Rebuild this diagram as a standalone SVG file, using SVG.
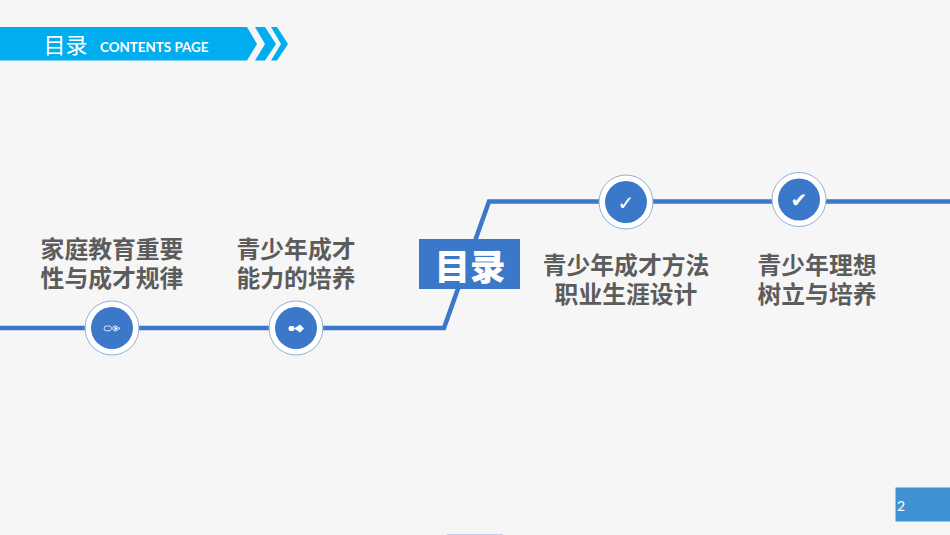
<svg xmlns="http://www.w3.org/2000/svg" width="950" height="535" viewBox="0 0 950 535">
<style>
.t{font-family:"Noto Sans CJK SC","Noto Sans",sans-serif;font-weight:700;font-size:23.800px;fill:#5c5c5c;text-anchor:middle}
.ring{fill:#fff;stroke:#8fb0dc;stroke-width:1}
.disc{fill:#3b78c9}
.line{fill:none;stroke:#3b78c9;stroke-width:4.5;stroke-linejoin:miter}
.i{font-family:"DejaVu Sans",sans-serif;fill:#fff;text-anchor:middle}
</style>
<rect width="950" height="535" fill="#f6f6f6"/>
<g id="header">
<polygon points="0,27 247,27 257,44 247,60.500 0,60.500" fill="#00aeef"/>
<polygon points="255,27 265,27 276,44 265,60.500 255,60.500 265,44" fill="#00aeef"/>
<polygon points="271,27 277,27 288,44 277,60.500 271,60.500 281,44" fill="#00aeef"/>
<text x="43.500" y="53" font-family="'Noto Sans CJK SC',sans-serif" font-weight="400" font-size="22" fill="#fff">目录</text>
<text x="100" y="52" font-family="Lato,'Open Sans',sans-serif" font-weight="700" font-size="13.400" fill="#fff">CONTENTS PAGE</text>
</g>
<g id="connectors">
<path class="line" d="M0 328H444L489 201.500H950"/>
</g>
<g id="center">
<rect x="419" y="239" width="101" height="50" fill="#3b78c9"/>
<text x="470" y="280" text-anchor="middle" font-family="'Noto Sans CJK SC',sans-serif" font-weight="900" font-size="35.500" fill="#fff">目录</text>
</g>
<g id="node1">
<circle class="ring" cx="112" cy="328" r="27"/><circle class="disc" cx="112" cy="328" r="21"/>
<path d="M110 326H106.500A2.400 2.400 0 0 0 106.500 330.800H110L112 328.400L114 326H116L120 328.400L116 330.800H114L112 328.400L110 326" fill="none" stroke="#fff" stroke-width="0.800"/>
<path d="M114.500 326.500L118 328.400L114.500 330.300Z" fill="#fff"/>
<text class="t" x="112" y="258">家庭教育重要</text><text class="t" x="112" y="287">性与成才规律</text>
</g>
<g id="node2">
<circle class="ring" cx="296" cy="328" r="27"/><circle class="disc" cx="296" cy="328" r="21"/>
<rect x="288.500" y="326" width="6" height="5" rx="2" fill="#fff"/>
<path d="M294 328.500L298 326L300 324.500L304 328.500L300 332.500L298 331Z" fill="#fff"/>
<text class="t" x="296" y="258">青少年成才</text><text class="t" x="296" y="287">能力的培养</text>
</g>
<g id="node3">
<circle class="ring" cx="626" cy="202" r="27"/><circle class="disc" cx="626" cy="202" r="21"/>
<text class="i" x="626" y="210" font-size="20">✓</text>
<text class="t" x="626" y="274">青少年成才方法</text><text class="t" x="626" y="303">职业生涯设计</text>
</g>
<g id="node4">
<circle class="ring" cx="799" cy="199.500" r="27"/><circle class="disc" cx="799" cy="199.500" r="21"/>
<text class="i" x="799" y="207" font-size="20">✔</text>
<text class="t" x="817" y="274">青少年理想</text><text class="t" x="817" y="303">树立与培养</text>
</g>
<g id="page">
<rect x="895.500" y="487.500" width="55" height="34" fill="#3f92d2"/>
<text x="897" y="511" font-family="Lato,sans-serif" font-size="14" fill="#fff">2</text>
</g>
<rect x="447" y="534" width="56" height="1" fill="#c5d3ea"/>
</svg>
